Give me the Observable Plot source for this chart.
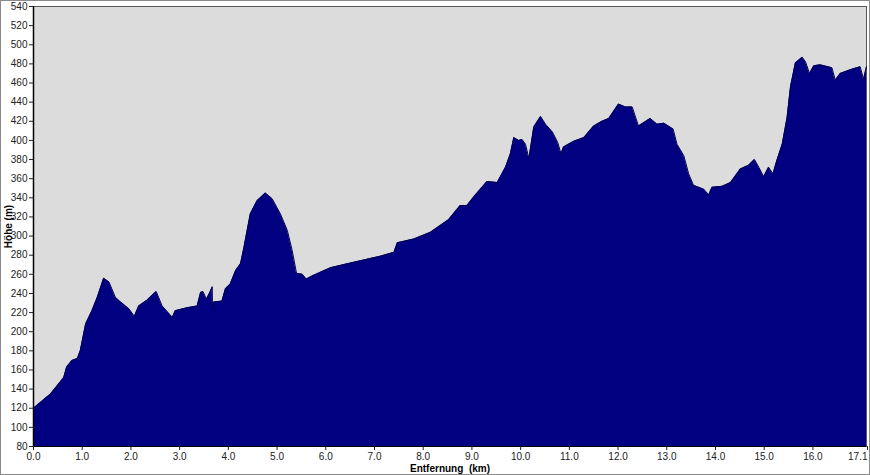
<!DOCTYPE html>
<html>
<head>
<meta charset="utf-8">
<script src="https://cdn.jsdelivr.net/npm/d3@7"></script>
<script src="https://cdn.jsdelivr.net/npm/@observablehq/plot@0.6"></script>
<style>
  html, body { margin: 0; padding: 0; background: #fff; }
  #chart { width: 870px; height: 475px; position: relative; box-sizing: border-box; }
  #chart svg { display: block; }
  #chart svg [aria-label$="axis label"] { font-weight: bold; fill: #000; }
  #frameBox { position: absolute; left: 0; top: 0; width: 870px; height: 475px; box-sizing: border-box; border: 1px solid #8a8a8a; pointer-events: none; }
</style>
</head>
<body>
<div id="chart"><div id="frameBox"></div></div>
<script>
const km = [0, 0.35, 0.62, 0.68, 0.79, 0.9, 0.96, 1.07, 1.2, 1.31, 1.44, 1.55, 1.68, 1.79, 1.96, 2.07, 2.16, 2.33, 2.52, 2.64, 2.85, 2.91, 3.15, 3.36, 3.43, 3.48, 3.55, 3.62, 3.67, 3.675, 3.70, 3.87, 3.94, 4.04, 4.15, 4.25, 4.32, 4.45, 4.59, 4.76, 4.90, 5.07, 5.21, 5.31, 5.40, 5.52, 5.60, 5.75, 6.10, 6.44, 6.78, 7.12, 7.40, 7.47, 7.81, 8.15, 8.52, 8.76, 8.90, 9.04, 9.31, 9.52, 9.69, 9.79, 9.86, 9.96, 10.03, 10.10, 10.17, 10.27, 10.41, 10.51, 10.65, 10.76, 10.83, 10.88, 11.09, 11.30, 11.50, 11.67, 11.81, 12.01, 12.15, 12.29, 12.42, 12.66, 12.80, 12.94, 13.13, 13.21, 13.35, 13.45, 13.55, 13.76, 13.86, 13.93, 14.14, 14.31, 14.51, 14.68, 14.80, 14.89, 14.99, 15.09, 15.18, 15.26, 15.37, 15.47, 15.54, 15.64, 15.78, 15.85, 15.93, 16.02, 16.15, 16.39, 16.46, 16.56, 16.77, 16.97, 17.04, 17.1];
const elevation = [120, 135, 152, 163, 170, 172, 180, 208, 222, 236, 256, 252, 236, 231, 224, 216, 227, 233, 242, 227, 215, 222, 225, 227, 241, 242, 234, 241, 247, 224, 231, 232, 245, 250, 264, 271, 288, 323, 337, 345, 339, 323, 306, 285, 261, 260, 255, 259, 267, 271, 275, 279, 283, 293, 297, 304, 317, 332, 332, 341, 357, 356, 372, 386, 403, 400, 401, 396, 381, 414, 425, 417, 409, 398, 386, 393, 399, 403, 415, 420, 423, 438, 435, 435, 415, 423, 417, 418, 412, 396, 384, 365, 353, 349, 343, 351, 352, 356, 370, 374, 380, 372, 362, 372, 365, 379, 396, 424, 456, 481, 487, 482, 470, 478, 479, 476, 463, 470, 474, 477, 464, 477];
const xTicks = [0, 1, 2, 3, 4, 5, 6, 7, 8, 9, 10, 11, 12, 13, 14, 15, 16];
const xEndTick = [17.1];
const yTicks = [80, 100, 120, 140, 160, 180, 200, 220, 240, 260, 280, 300, 320, 340, 360, 380, 400, 420, 440, 460, 480, 500, 520, 540];
const xLabel = "Entfernung\u00a0 (km)";
const yLabel = "Höhe (m)";

const data = km.map((k, i) => ({km: k, elev: elevation[i]}));
const yMin = yTicks[0], yMax = yTicks[yTicks.length - 1];

const chart = Plot.plot({
  width: 870,
  height: 475,
  marginLeft: 33,
  marginRight: 4,
  marginTop: 6,
  marginBottom: 29,
  style: {fontFamily: "'Liberation Sans', Arial, sans-serif", fontSize: "10px", background: "transparent", color: "#000"},
  x: {domain: [0, 17.1]},
  y: {domain: [yMin, yMax]},
  marks: [
    Plot.frame({fill: "#dcdcdc", stroke: "#5a5a5a"}),
    Plot.areaY(data, {x: "km", y1: yMin, y2: "elev", fill: "#000080", curve: "linear"}),
    Plot.lineY(data, {x: "km", y: "elev", stroke: "#000050", strokeWidth: 1}),
    Plot.ruleY([yMin], {stroke: "#000"}),
    Plot.ruleX([0], {stroke: "#000", strokeWidth: 1.5}),
    Plot.axisY({ticks: yTicks, tickSize: 4, tickPadding: 2, tickFormat: d3.format("d"), label: yLabel, labelAnchor: "center", labelArrow: "none", labelOffset: 29, color: "#222"}),
    Plot.axisX({ticks: xTicks, tickSize: 4, tickPadding: 2, tickFormat: d3.format(".1f"), label: xLabel, labelAnchor: "center", labelArrow: "none", labelOffset: 25, color: "#222"}),
    Plot.axisX({ticks: xEndTick, tickSize: 4, tickPadding: 2, tickFormat: d3.format(".1f"), textAnchor: "end", dx: 1, label: null, color: "#222"})
  ]
});
document.getElementById("chart").prepend(chart);
</script>
</body>
</html>
